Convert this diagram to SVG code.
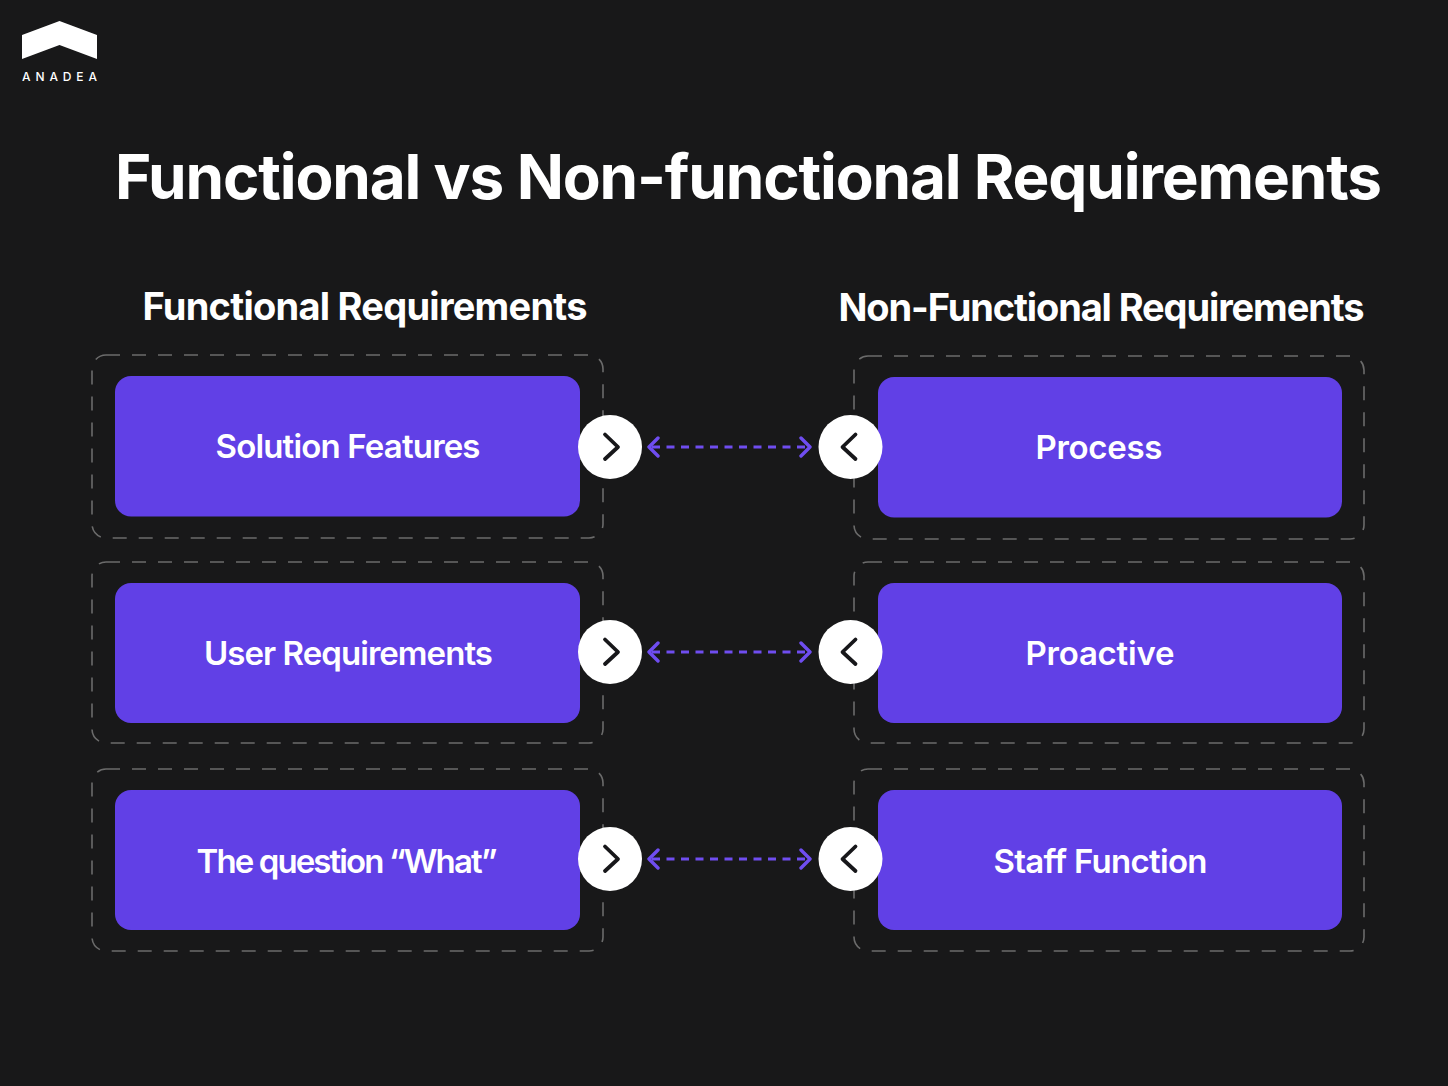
<svg xmlns="http://www.w3.org/2000/svg" width="1448" height="1086" viewBox="0 0 1448 1086">
<style>
text{font-family:"Inter","Liberation Sans",sans-serif;fill:#fff;font-weight:600;text-anchor:middle}
.h{font-size:38px;font-weight:650}
.l{font-size:33px}
.d{fill:none;stroke:#6b6b6b;stroke-width:1.6;stroke-dasharray:14 12}
.b{fill:#6140e6}
.c{fill:#fff}
.ch{fill:none;stroke:#17171a;stroke-width:3.8;stroke-linecap:round;stroke-linejoin:round}
.a{fill:none;stroke:#6f4df0;stroke-width:3.2;stroke-dasharray:8 6.5}
.ah{fill:none;stroke:#6f4df0;stroke-width:3.4;stroke-linecap:round;stroke-linejoin:round}
</style>
<rect width="1448" height="1086" fill="#181819"/>
<g id="logo">
<path d="M22 35L59.500 21L97 35V59L59.500 45L22 59Z" fill="#fff"/>
<text x="59.500" y="81" textLength="75" style="font-size:12px;font-weight:500">ANADEA</text>
</g>
<text id="title" x="748.500" y="199" textLength="1267" style="font-size:62px;font-weight:700">Functional vs Non-functional Requirements</text>
<text id="left-heading" class="h" x="365" y="320" textLength="445">Functional Requirements</text>
<text id="right-heading" class="h" x="1101.500" y="321" textLength="526">Non-Functional Requirements</text>
<g id="left-1"><rect class="d" x="92" y="355" width="511" height="183" rx="14"/><rect class="b" x="115" y="376" width="465" height="140.500" rx="16"/><text class="l" x="348" y="458" textLength="265">Solution Features</text></g>
<g id="left-2"><rect class="d" x="92" y="562" width="511" height="181" rx="14"/><rect class="b" x="115" y="583" width="465" height="140" rx="16"/><text class="l" x="348.500" y="665" textLength="289">User Requirements</text></g>
<g id="left-3"><rect class="d" x="92" y="769" width="511" height="182" rx="14"/><rect class="b" x="115" y="790" width="465" height="140" rx="16"/><text class="l" x="347" y="873" textLength="301">The question “What”</text></g>
<g id="right-1"><rect class="d" x="854" y="356" width="510" height="183" rx="14"/><rect class="b" x="878" y="377" width="464" height="140.500" rx="16"/><text class="l" x="1099" y="459" textLength="127">Process</text></g>
<g id="right-2"><rect class="d" x="854" y="562" width="510" height="181" rx="14"/><rect class="b" x="878" y="583" width="464" height="140" rx="16"/><text class="l" x="1100" y="665" textLength="149">Proactive</text></g>
<g id="right-3"><rect class="d" x="854" y="769" width="510" height="182" rx="14"/><rect class="b" x="878" y="790" width="464" height="140" rx="16"/><text class="l" x="1100.500" y="873" textLength="214">Staff Function</text></g>
<g id="connectors">
<path class="a" d="M652 447H808"/><path class="ah" d="M658 438L649 447L658 456M801 438L810 447L801 456"/>
<path class="a" d="M652 652H808"/><path class="ah" d="M658 643L649 652L658 661M801 643L810 652L801 661"/>
<path class="a" d="M652 859H808"/><path class="ah" d="M658 850L649 859L658 868M801 850L810 859L801 868"/>
</g>
<g id="btn-l1"><circle class="c" cx="610" cy="447" r="32"/><path class="ch" d="M605 434.500L618 447L605 459"/></g>
<g id="btn-l2"><circle class="c" cx="610" cy="652" r="32"/><path class="ch" d="M605 639.500L618 652L605 664"/></g>
<g id="btn-l3"><circle class="c" cx="610" cy="859" r="32"/><path class="ch" d="M605 846.500L618 859L605 871"/></g>
<g id="btn-r1"><circle class="c" cx="850.500" cy="447" r="32"/><path class="ch" d="M855.500 434.500L842.500 447L855.500 459"/></g>
<g id="btn-r2"><circle class="c" cx="850.500" cy="652" r="32"/><path class="ch" d="M855.500 639.500L842.500 652L855.500 664"/></g>
<g id="btn-r3"><circle class="c" cx="850.500" cy="859" r="32"/><path class="ch" d="M855.500 846.500L842.500 859L855.500 871"/></g>
</svg>
